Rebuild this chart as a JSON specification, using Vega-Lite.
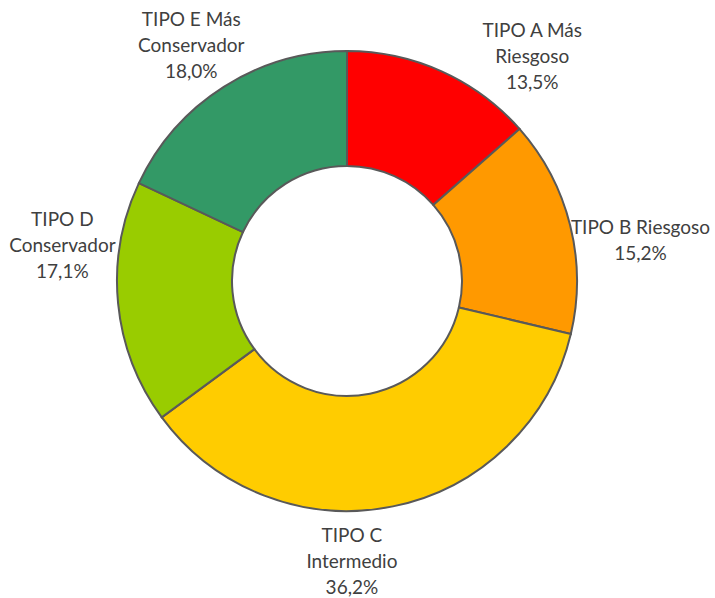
{
  "$schema": "https://vega.github.io/schema/vega-lite/v6.json",
  "width": 694,
  "height": 562,
  "autosize": "none",
  "padding": {"left": 0, "top": 0, "right": 21, "bottom": 36},
  "background": "white",
  "config": {"view": {"stroke": null}},
  "data": {
    "values": [
      {"cat": "A", "label": "TIPO A Más\nRiesgoso\n13,5%", "value": 13.5},
      {"cat": "B", "label": "TIPO B Riesgoso\n15,2%", "value": 15.2},
      {"cat": "C", "label": "TIPO C\nIntermedio\n36,2%", "value": 36.2},
      {"cat": "D", "label": "TIPO D\nConservador\n17,1%", "value": 17.1},
      {"cat": "E", "label": "TIPO E Más\nConservador\n18,0%", "value": 18.0}
    ]
  },
  "encoding": {
    "theta": {"field": "value", "type": "quantitative", "stack": true},
    "order": {"field": "cat", "type": "nominal"}
  },
  "layer": [
    {
      "mark": {"type": "arc", "radius": 230, "radius2": 115, "stroke": "#595959", "strokeWidth": 2},
      "encoding": {
        "color": {
          "field": "cat", "type": "nominal", "legend": null,
          "scale": {"domain": ["A", "B", "C", "D", "E"], "range": ["#FF0000", "#FF9900", "#FFCC00", "#99CC00", "#339966"]}
        }
      }
    },
    {
      "mark": {"type": "text", "radius": 285, "dx": 68, "dy": 10, "font": "Lato", "fontSize": 19, "lineHeight": 26, "lineBreak": "\n", "fill": "#404040", "align": "center", "baseline": "middle"},
      "encoding": {"text": {"condition": {"test": "datum.cat === 'A'", "field": "label"}, "value": ""}}
    },
    {
      "mark": {"type": "text", "radius": 285, "dx": 17, "dy": 16, "font": "Lato", "fontSize": 19, "lineHeight": 26, "lineBreak": "\n", "fill": "#404040", "align": "center", "baseline": "middle"},
      "encoding": {"text": {"condition": {"test": "datum.cat === 'B'", "field": "label"}, "value": ""}}
    },
    {
      "mark": {"type": "text", "radius": 285, "dx": -52, "dy": -24, "font": "Lato", "fontSize": 19, "lineHeight": 26, "lineBreak": "\n", "fill": "#404040", "align": "center", "baseline": "middle"},
      "encoding": {"text": {"condition": {"test": "datum.cat === 'C'", "field": "label"}, "value": ""}}
    },
    {
      "mark": {"type": "text", "radius": 285, "dx": -1, "dy": -89, "font": "Lato", "fontSize": 19, "lineHeight": 26, "lineBreak": "\n", "fill": "#404040", "align": "center", "baseline": "middle"},
      "encoding": {"text": {"condition": {"test": "datum.cat === 'D'", "field": "label"}, "value": ""}}
    },
    {
      "mark": {"type": "text", "radius": 285, "dx": -3, "dy": -20, "font": "Lato", "fontSize": 19, "lineHeight": 26, "lineBreak": "\n", "fill": "#404040", "align": "center", "baseline": "middle"},
      "encoding": {"text": {"condition": {"test": "datum.cat === 'E'", "field": "label"}, "value": ""}}
    }
  ]
}
